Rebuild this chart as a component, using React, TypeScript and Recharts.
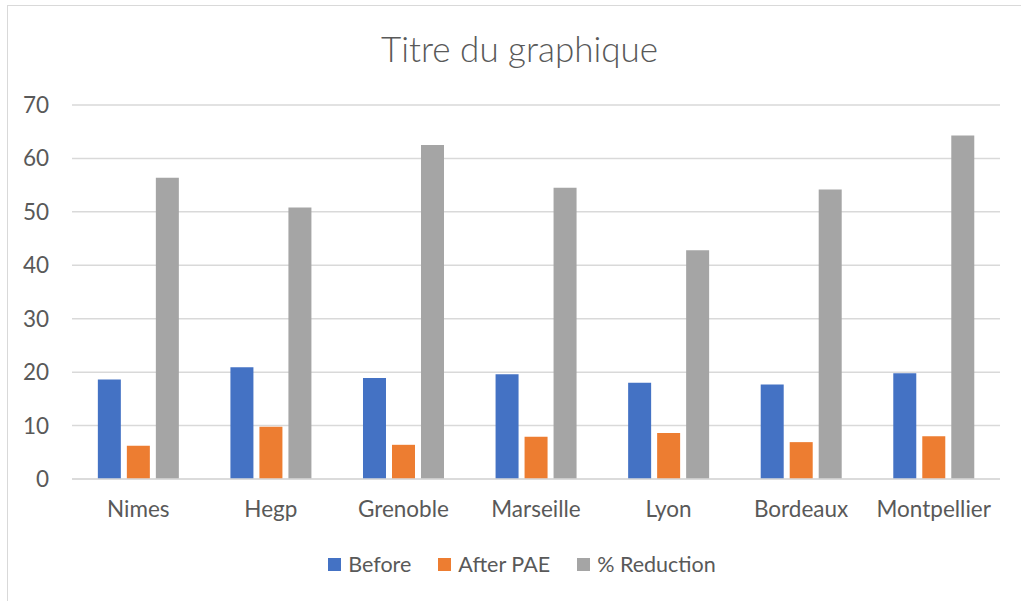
import { Bar, BarChart, CartesianGrid, Legend, XAxis, YAxis } from 'recharts';

const sites = ['Nimes', 'Hegp', 'Grenoble', 'Marseille', 'Lyon', 'Bordeaux', 'Montpellier'];
const before = [18.6, 20.9, 18.9, 19.6, 18.0, 17.7, 19.8];
const afterPae = [6.2, 9.8, 6.4, 7.9, 8.6, 6.9, 8.0];
const reduction = [56.4, 50.8, 62.5, 54.5, 42.8, 54.2, 64.3];
const yTicks = [0, 10, 20, 30, 40, 50, 60, 70];

const series = [
    { key: 'before', name: 'Before', color: '#4472C4' },
    { key: 'after', name: 'After PAE', color: '#ED7D31' },
    { key: 'reduction', name: '% Reduction', color: '#A5A5A5' },
];

const data = sites.map((site, i) => ({
    site,
    before: before[i],
    after: afterPae[i],
    reduction: reduction[i],
}));

const FONT = 'Lato, "Open Sans", sans-serif';
const TEXT = '#595959';

function LegendBox() {
    return (
        <div style={{ display: 'flex', justifyContent: 'center', gap: 27, paddingLeft: 44, fontFamily: FONT, fontSize: 21.5, color: TEXT }}>
            {series.map((s) => (
                <div key={s.key} style={{ display: 'flex', alignItems: 'center' }}>
                    <span style={{ display: 'inline-block', width: 13, height: 13, background: s.color, marginRight: 7 }} />
                    <span>{s.name}</span>
                </div>
            ))}
        </div>
    );
}

export default function App() {
    return (
        <div style={{ position: 'absolute', left: 0, top: 0, width: 1021, height: 601, overflow: 'hidden', background: '#fff' }}>
            <div style={{ position: 'absolute', left: 7, top: 5, width: 1040, height: 620, border: '1.5px solid #d9d9d9' }} />
            <div style={{ position: 'absolute', left: 9, top: 27, width: 1021, textAlign: 'center', fontFamily: FONT, fontSize: 35, color: TEXT, fontWeight: 300 }}>
                Titre du graphique
            </div>
            <div style={{ position: 'absolute', left: 0, top: 0 }}>
                <BarChart width={1021} height={601} data={data} margin={{ top: 105, right: 21, left: 0, bottom: 24 }} barGap={6} barCategoryGap="19.5%">
                    <CartesianGrid vertical={false} stroke="#d9d9d9" strokeWidth={1.5} />
                    <XAxis dataKey="site" axisLine={{ stroke: '#d9d9d9', strokeWidth: 1.5 }} tickLine={false} tickSize={0} tickMargin={22} height={72}
                        tick={{ fill: TEXT, fontSize: 22.5, fontFamily: FONT }} interval={0} />
                    <YAxis domain={[0, 70]} ticks={yTicks} width={72} axisLine={false} tickLine={false} tickSize={0} tickMargin={23}
                        tick={{ fill: TEXT, fontSize: 22.5, fontFamily: FONT }} />
                    <Legend verticalAlign="bottom" height={26} content={() => <LegendBox />} />
                    {series.map((s) => (
                        <Bar key={s.key} dataKey={s.key} name={s.name} fill={s.color} isAnimationActive={false} />
                    ))}
                </BarChart>
            </div>
        </div>
    );
}
